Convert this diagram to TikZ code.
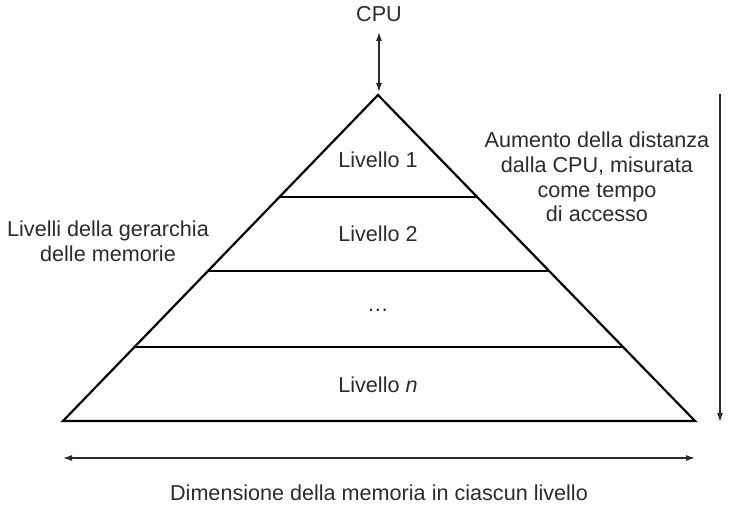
\documentclass[tikz,border=0pt]{standalone}
\usepackage{fontspec}
\setmainfont{Liberation Sans}
\usetikzlibrary{calc,arrows.meta}
\definecolor{inkgray}{HTML}{2B2B2B}
\begin{document}
\begin{tikzpicture}[x=1pt,y=-1pt,
  label/.style={text=inkgray,font=\fontsize{21.6}{24.8}\selectfont,inner sep=0pt},
  levelline/.style={line width=2.2pt,black},
  axisarrow/.style={line width=1.1pt,inkgray,-{Latex[length=9pt,width=6pt]}},
  biarrow/.style={line width=1.1pt,inkgray,{Latex[length=9pt,width=6pt]}-{Latex[length=9pt,width=6pt]}}]
  \useasboundingbox (0,0) rectangle (736,510);

  % pyramid corners
  \coordinate (apex) at (378,95);
  \coordinate (bl) at (63,421);
  \coordinate (br) at (695,421);
  \draw[levelline,line join=miter] (bl) -- (apex) -- (br) -- cycle;

  % level separators
  \foreach \t/\n in {0.313/a,0.540/b,0.773/c}{
    \coordinate (l\n) at ($(apex)!\t!(bl)$);
    \coordinate (r\n) at ($(apex)!\t!(br)$);
    \draw[levelline] (l\n) -- (r\n);
  }

  % level labels
  \node[label,anchor=base] (lv1) at (378,168) {Livello 1};
  \node[label,anchor=base] (lv2) at (378,242) {Livello 2};
  \node[label,anchor=base] (lvd) at (378,312) {\ldots};
  \node[label,anchor=base] (lvn) at (378,392) {Livello \textit{n}};

  % CPU link
  \node[label,anchor=base] (cpu) at (379,22) {CPU};
  \coordinate (cputop) at (379,32);
  \coordinate (cpubot) at (379,92);
  \draw[biarrow] (cputop) -- (cpubot);

  % side captions
  \node[label,align=center] (hier) at (108,241) {Livelli della gerarchia\\delle memorie};
  \node[label,align=center] (dist) at (597,177) {Aumento della distanza\\dalla CPU, misurata\\come tempo\\di accesso};

  % distance axis
  \coordinate (dtop) at (720,94);
  \coordinate (dbot) at (720,422);
  \draw[axisarrow] (dtop) -- (dbot);

  % size axis
  \coordinate (sleft) at (63,458);
  \coordinate (sright) at (695,458);
  \draw[biarrow] (sleft) -- (sright);
  \node[label,anchor=base] (size) at (379,500) {Dimensione della memoria in ciascun livello};
\end{tikzpicture}
\end{document}
